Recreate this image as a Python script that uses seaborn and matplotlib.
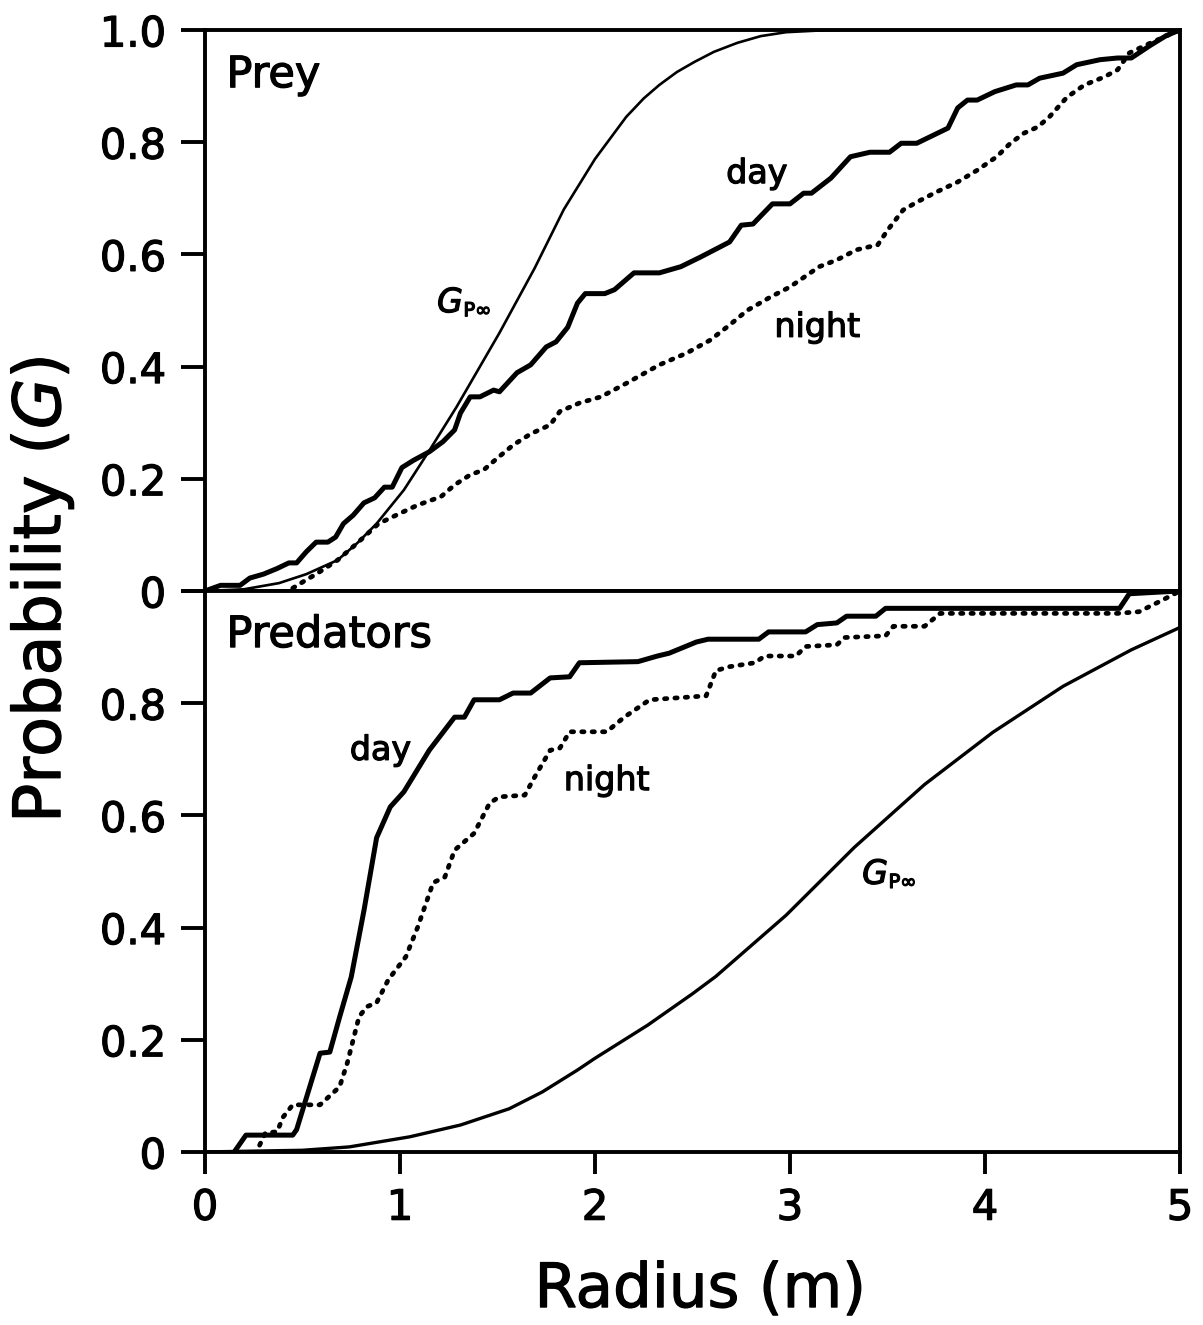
import matplotlib
matplotlib.use("Agg")
import matplotlib.pyplot as plt
import matplotlib.patheffects as pe
import matplotlib.text as mtext
import seaborn as sns

# ---------------- data ----------------
prey_day_x = [0, 0.08, 0.18, 0.23, 0.30, 0.37, 0.43, 0.47, 0.52, 0.57, 0.63, 0.67, 0.71, 0.76,
              0.815, 0.87, 0.92, 0.96, 1.01, 1.07, 1.15, 1.22, 1.28, 1.31, 1.36, 1.41, 1.48, 1.51,
              1.60, 1.67, 1.75, 1.80, 1.86, 1.91, 1.95, 2.05, 2.10, 2.20, 2.33, 2.44, 2.54, 2.69,
              2.75, 2.81, 2.91, 3.00, 3.07, 3.11, 3.21, 3.31, 3.41, 3.51, 3.57, 3.65, 3.81, 3.86,
              3.91, 3.96, 4.05, 4.16, 4.22, 4.28, 4.40, 4.47, 4.59, 4.68, 4.75, 4.85, 4.93, 5.0]
prey_day_y = [0, 0.01, 0.01, 0.023, 0.03, 0.04, 0.05, 0.05, 0.07, 0.087, 0.087, 0.096, 0.12, 0.135,
              0.157, 0.166, 0.185, 0.185, 0.22, 0.233, 0.248, 0.266, 0.287, 0.317, 0.346, 0.346, 0.358, 0.355,
              0.389, 0.403, 0.435, 0.444, 0.47, 0.513, 0.53, 0.53, 0.537, 0.567, 0.567, 0.578, 0.595, 0.622,
              0.652, 0.654, 0.69, 0.69, 0.709, 0.709, 0.736, 0.774, 0.782, 0.782, 0.798, 0.798, 0.825, 0.861,
              0.875, 0.875, 0.89, 0.902, 0.902, 0.914, 0.923, 0.938, 0.947, 0.95, 0.95, 0.973, 0.99, 1.0]

prey_night_x = [0.45, 0.52, 0.57, 0.68, 0.78, 0.89, 0.98, 1.09, 1.21, 1.28, 1.36, 1.43, 1.50, 1.58,
                1.67, 1.77, 1.82, 1.92, 2.03, 2.16, 2.33, 2.47, 2.59, 2.69, 2.78, 2.90, 3.00, 3.15,
                3.24, 3.34, 3.45, 3.50, 3.58, 3.65, 3.75, 3.86, 3.96, 4.06, 4.13, 4.20, 4.27, 4.33,
                4.42, 4.51, 4.61, 4.68, 4.74, 4.85, 5.0]
prey_night_y = [0.005, 0.02, 0.03, 0.055, 0.085, 0.12, 0.135, 0.153, 0.168, 0.189, 0.207, 0.216, 0.237, 0.26,
                0.28, 0.296, 0.32, 0.335, 0.346, 0.37, 0.403, 0.424, 0.447, 0.474, 0.50, 0.524, 0.542, 0.578,
                0.59, 0.608, 0.617, 0.643, 0.679, 0.693, 0.711, 0.729, 0.75, 0.774, 0.798, 0.816, 0.827, 0.845,
                0.88, 0.902, 0.916, 0.929, 0.959, 0.977, 1.0]

prey_gp_x = [0, 0.2, 0.38, 0.52, 0.68, 0.78, 0.88, 1.02, 1.15, 1.29, 1.41, 1.51, 1.69, 1.84, 2.0,
             2.16, 2.25, 2.33, 2.42, 2.51, 2.61, 2.73, 2.85, 2.98, 3.15, 3.3, 3.6, 4.0, 5.0]
prey_gp_y = [0, 0.003, 0.014, 0.03, 0.055, 0.085, 0.12, 0.18, 0.25, 0.328, 0.40, 0.46, 0.575, 0.68, 0.77,
             0.845, 0.878, 0.902, 0.925, 0.943, 0.961, 0.977, 0.989, 0.996, 0.999, 1.0, 1.0, 1.0, 1.0]

pred_day_x = [0.15, 0.21, 0.45, 0.47, 0.59, 0.64, 0.69, 0.75, 0.815, 0.88, 0.95, 1.02, 1.15, 1.28,
              1.33, 1.38, 1.51, 1.58, 1.67, 1.77, 1.87, 1.92, 2.22, 2.32, 2.38, 2.52, 2.58, 2.84,
              2.89, 3.08, 3.14, 3.24, 3.29, 3.44, 3.49, 4.69, 4.74, 5.0]
pred_day_y = [0, 0.03, 0.03, 0.04, 0.176, 0.178, 0.24, 0.312, 0.43, 0.56, 0.615, 0.642, 0.716, 0.775,
              0.775, 0.806, 0.806, 0.818, 0.818, 0.845, 0.847, 0.872, 0.874, 0.884, 0.889, 0.909, 0.914, 0.914,
              0.927, 0.927, 0.94, 0.943, 0.955, 0.955, 0.969, 0.969, 0.995, 1.0]

pred_night_x = [0.28, 0.31, 0.37, 0.40, 0.45, 0.59, 0.69, 0.73, 0.79, 0.83, 0.88, 0.94, 1.03, 1.09,
                1.17, 1.23, 1.28, 1.38, 1.46, 1.51, 1.64, 1.69, 1.77, 1.82, 1.87, 2.06, 2.15, 2.28,
                2.57, 2.62, 2.69, 2.82, 2.87, 3.03, 3.08, 3.24, 3.28, 3.49, 3.53, 3.69, 3.77, 4.68,
                4.79, 4.90, 5.0]
pred_night_y = [0.012, 0.034, 0.036, 0.062, 0.084, 0.084, 0.116, 0.159, 0.241, 0.259, 0.266, 0.307, 0.348, 0.40,
                0.48, 0.49, 0.538, 0.568, 0.622, 0.633, 0.636, 0.668, 0.716, 0.72, 0.749, 0.749, 0.775, 0.806,
                0.813, 0.858, 0.865, 0.872, 0.884, 0.884, 0.901, 0.904, 0.917, 0.920, 0.937, 0.937, 0.96, 0.96,
                0.963, 0.982, 1.0]

pred_gp_x = [0, 0.5, 0.74, 1.05, 1.31, 1.56, 1.73, 1.91, 2.0, 2.27, 2.5, 2.62, 2.98, 3.33, 3.69, 4.04,
             4.40, 4.75, 5.0]
pred_gp_y = [0, 0.003, 0.009, 0.027, 0.048, 0.077, 0.107, 0.146, 0.167, 0.226, 0.282, 0.313, 0.422, 0.543,
             0.655, 0.748, 0.830, 0.895, 0.935]

x_ticks = [0, 1, 2, 3, 4, 5]
x_tick_labels = ["0", "1", "2", "3", "4", "5"]
top_y_ticks = [0, 0.2, 0.4, 0.6, 0.8, 1.0]
top_y_labels = ["0", "0.2", "0.4", "0.6", "0.8", "1.0"]
bot_y_ticks = [0, 0.2, 0.4, 0.6, 0.8, 1.0]
bot_y_labels = ["0", "0.2", "0.4", "0.6", "0.8", ""]

# ---------------- style ----------------
sns.set_theme(style="white")
plt.rcParams["font.family"] = ["DejaVu Sans"]
plt.rcParams["text.color"] = "black"
plt.rcParams["axes.labelcolor"] = "black"
plt.rcParams["axes.edgecolor"] = "black"
plt.rcParams["axes.linewidth"] = 2.8
plt.rcParams["xtick.color"] = "black"
plt.rcParams["ytick.color"] = "black"
plt.rcParams["xtick.labelcolor"] = "black"
plt.rcParams["ytick.labelcolor"] = "black"

fig = plt.figure(figsize=(12.03, 13.25), dpi=100)
fig.patch.set_facecolor("white")
L, W, H = 0.1704, 0.8105, 0.4234
ax_top = fig.add_axes([L, 0.554, W, H])
ax_bot = fig.add_axes([L, 0.1306, W, H])

DAY_LW = 3.6
NIGHT_LW = 3.4
night_ls = (0, (0.5, 1.7))


def draw(ax, dx, dy, nx, ny, gx, gy, gp_lw):
    sns.lineplot(x=gx, y=gy, ax=ax, color="black", lw=gp_lw, estimator=None, sort=False)
    sns.lineplot(x=nx, y=ny, ax=ax, color="black", lw=NIGHT_LW, linestyle=night_ls,
                 dash_capstyle="round", estimator=None, sort=False)
    sns.lineplot(x=dx, y=dy, ax=ax, color="black", lw=DAY_LW, estimator=None, sort=False,
                 solid_joinstyle="round")


draw(ax_top, prey_day_x, prey_day_y, prey_night_x, prey_night_y, prey_gp_x, prey_gp_y, 1.9)
draw(ax_bot, pred_day_x, pred_day_y, pred_night_x, pred_night_y, pred_gp_x, pred_gp_y, 2.4)

for ax in (ax_top, ax_bot):
    ax.set_xlim(0, 5)
    ax.set_ylim(0, 1)
    ax.set_xlabel("")
    ax.set_ylabel("")
    for s in ax.spines.values():
        s.set_visible(True)
        s.set_linewidth(2.8)
        s.set_color("black")
    ax.tick_params(axis="y", which="both", left=True, direction="out", length=17, width=2.8,
                   pad=11, labelsize=30, labelcolor="black")
    ax.set_facecolor("white")
    ax.grid(False)

ax_top.set_yticks(top_y_ticks)
ax_top.set_yticklabels(top_y_labels)
ax_top.set_xticks(x_ticks)
ax_top.tick_params(axis="x", bottom=False, labelbottom=False, top=False)

ax_bot.set_yticks(bot_y_ticks)
ax_bot.set_yticklabels(bot_y_labels)
ax_bot.set_xticks(x_ticks)
ax_bot.set_xticklabels(x_tick_labels)
ax_bot.tick_params(axis="x", bottom=True, top=False, direction="out", length=16, width=2.8,
                   pad=9, labelsize=30, labelcolor="black")

# panel labels
ax_top.text(0.11, 0.898, "Prey", fontsize=31, ha="left", va="baseline", color="black")
ax_bot.text(0.11, 0.90, "Predators", fontsize=31, ha="left", va="baseline", color="black")

ax_top.text(2.83, 0.727, "day", fontsize=24, ha="center", va="baseline", color="black")
ax_top.text(3.14, 0.453, "night", fontsize=24, ha="center", va="baseline", color="black")
ax_bot.text(0.90, 0.699, "day", fontsize=24, ha="center", va="baseline", color="black")
ax_bot.text(2.06, 0.645, "night", fontsize=24, ha="center", va="baseline", color="black")


def gp_label(ax, x, y):
    ax.text(x, y, "G", fontsize=24, style="italic", ha="left", va="baseline", color="black")
    ax.annotate("P\u221e", xy=(x, y), xytext=(19, -3), textcoords="offset points",
                fontsize=14, ha="left", va="baseline", color="black")


gp_label(ax_top, 1.19, 0.497)
gp_label(ax_bot, 3.37, 0.478)

fig.text(0.035, 0.5547, "Probability ($\\it{G}$)", rotation=90, fontsize=47, ha="center",
         va="center", color="black")
fig.text(0.582, 0.026, "Radius (m)", fontsize=44, ha="center", va="center", color="black")

# slightly heavier glyphs, like the printed original
for t in fig.findobj(mtext.Text):
    if t.get_text():
        t.set_path_effects([pe.withStroke(linewidth=0.9, foreground="black")])

fig.savefig("out.png", dpi=100, facecolor="white")
